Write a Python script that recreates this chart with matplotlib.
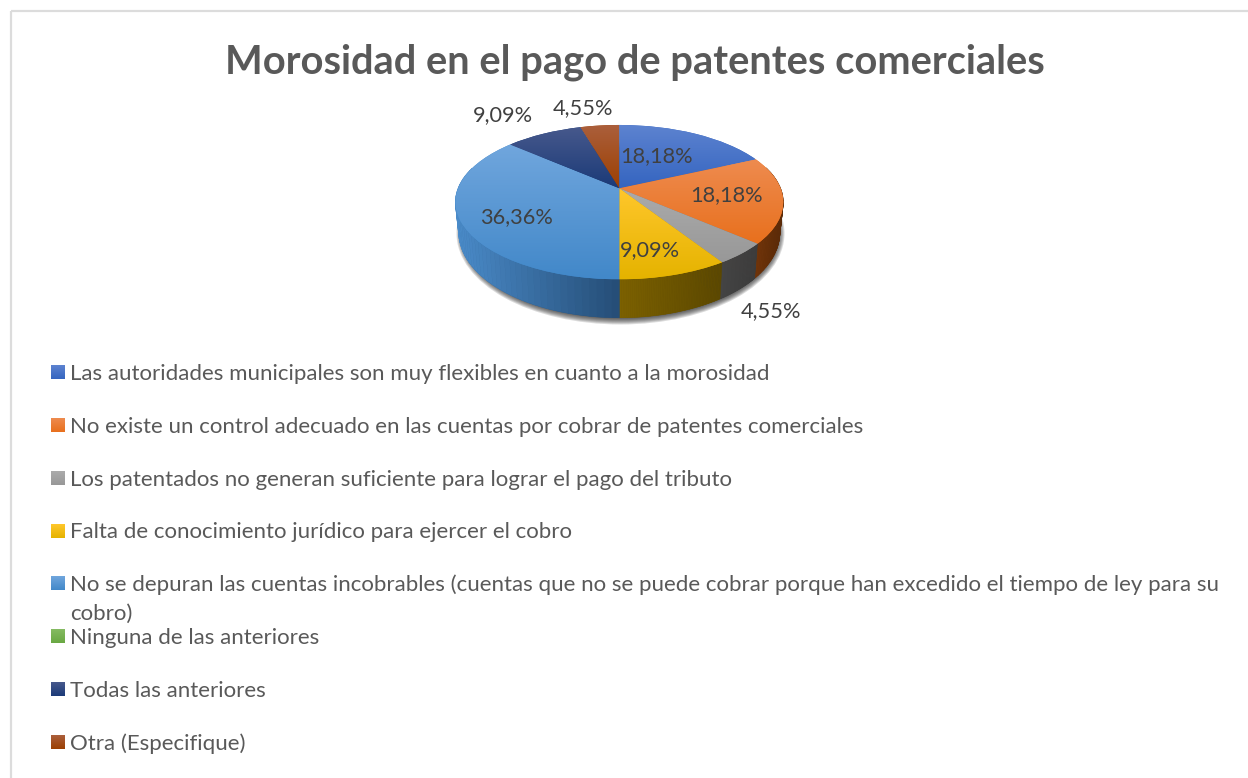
import numpy as np
import matplotlib
matplotlib.use("Agg")
import matplotlib.pyplot as plt
from matplotlib.transforms import Transform
from matplotlib.collections import PolyCollection
from matplotlib.colors import to_rgb
from matplotlib.patches import Ellipse

# ---------- data ----------
title = "Morosidad en el pago de patentes comerciales"
categories = [
    "Las autoridades municipales son muy flexibles en cuanto a la morosidad",
    "No existe un control adecuado en las cuentas por cobrar de patentes comerciales",
    "Los patentados no generan suficiente para lograr el pago del tributo",
    "Falta de conocimiento jurídico para ejercer el cobro",
    "No se depuran las cuentas incobrables (cuentas que no se puede cobrar porque han excedido el tiempo de ley para su\ncobro)",
    "Ninguna de las anteriores",
    "Todas las anteriores",
    "Otra (Especifique)",
]
values = [18.18, 18.18, 4.55, 9.09, 36.36, 0.0, 9.09, 4.55]
value_labels = ["18,18%", "18,18%", "4,55%", "9,09%", "36,36%", "", "9,09%", "4,55%"]

# ---------- styles ----------
top_light = ["#5d83d0", "#ee8b4f", "#ababab", "#ffc72c", "#70a6dd", "#85bb62", "#47598c", "#ab5f3c"]
top_dark = ["#3565c0", "#e8701d", "#989898", "#e5b300", "#4288c9", "#6aa843", "#1b3a78", "#9c4002"]
side_left = ["#1f3a70", "#70340a", "#454545", "#7c6100", "#4a8bc9", "#3f6628", "#12264e", "#5e2802"]
side_right = ["#1f3a70", "#5a2a08", "#3c3c3c", "#5c4800", "#254d76", "#3f6628", "#12264e", "#5e2802"]
label_xy = [(657, 156), (727, 195), (770.5, 311), (650, 250), (516.5, 217), None, (502.5, 115), (582.5, 108)]
legend_base = [379.5, 432.5, 485.5, 538.5, 591, 644, 697, 750]
FONT = "Lato"
TEXT = "#595959"
LABEL = "#404040"


class Perspective(Transform):
    """Projects the unit pie disc to figure pixels, seen from above."""
    input_dims = output_dims = 2
    is_separable = False
    has_inverse = False

    def __init__(self, cx, cy, rx, ky, a=0.1795):
        super().__init__()
        self.cx, self.cy, self.rx, self.ky, self.a = cx, cy, rx, ky, a

    def transform_non_affine(self, v):
        v = np.asarray(v, float)
        w = 1 + self.a * v[:, 1]
        return np.column_stack([self.cx + self.rx * v[:, 0] / w,
                                self.cy - self.ky * v[:, 1] / w])


P_top = Perspective(619.3, 188.3, 161.3, 74.7)
P_bot = Perspective(619.3, 217.2, 158.0, 82.5)

fig = plt.figure(figsize=(12.48, 7.78), dpi=100, facecolor="white")
ax = fig.add_axes([0, 0, 1, 1])


def reset_axes():
    ax.set_aspect("auto")
    ax.set_xlim(0, 1248)
    ax.set_ylim(778, 0)
    ax.axis("off")


def gradient(c0, c1, extent, z, clip=None):
    arr = np.linspace(to_rgb(c0), to_rgb(c1), 64).reshape(64, 1, 3)
    im = ax.imshow(arr, extent=extent, aspect="auto", origin="upper",
                   interpolation="bilinear", zorder=z)
    if clip is not None:
        im.set_clip_path(clip)
    return im


# soft shadow under the pie
for s in np.linspace(6, 0, 7):
    ax.add_patch(Ellipse((620.5, 233.5), 2 * (158 + s), 2 * (85 + s), fc="#262626",
                         ec="none", alpha=0.16, zorder=1))

# bottom face
wb, _ = ax.pie(values, startangle=90, counterclock=False, radius=1, colors=side_right)
for w in wb:
    w.set_transform(P_bot + ax.transData)
    w.set_clip_on(False)
    w.set_zorder(2)

# side walls, drawn as narrow strips along each slice's rim
fractions = np.cumsum([0] + values) / sum(values)
for i in range(len(values)):
    if values[i] <= 0:
        continue
    phi = 2 * np.pi * np.linspace(fractions[i], fractions[i + 1], 60)
    rim = np.column_stack([np.sin(phi), np.cos(phi)])
    tp, bt = P_top.transform(rim), P_bot.transform(rim)
    keep = rim[:, 1] < 0.3
    if keep.sum() < 2:
        continue
    tp, bt = tp[keep], bt[keep]
    xs = tp[:, 0]
    t = (xs - xs.min()) / max(xs.max() - xs.min(), 1e-6)
    c0, c1 = np.array(to_rgb(side_left[i])), np.array(to_rgb(side_right[i]))
    polys, cols = [], []
    for j in range(len(xs) - 1):
        polys.append([tp[j], tp[j + 1], bt[j + 1], bt[j]])
        cols.append(c0 + (c1 - c0) * (t[j] + t[j + 1]) / 2)
    ax.add_collection(PolyCollection(polys, facecolors=cols, edgecolors=cols,
                                     linewidths=0.4, zorder=3))

# top face
wt, _ = ax.pie(values, startangle=90, counterclock=False, radius=1, colors=top_dark)
for i, w in enumerate(wt):
    w.set_transform(P_top + ax.transData)
    w.set_clip_on(False)
    w.set_zorder(4)
    if values[i] <= 0:
        continue
    v = P_top.transform(w.get_path().vertices)
    gradient(top_light[i], top_dark[i],
             [v[:, 0].min(), v[:, 0].max(), v[:, 1].max(), v[:, 1].min()], 5, clip=w)

# frame: only the top and left edges show in the crop
ax.plot([11, 1248], [11, 11], color="#dcdcdc", lw=1.6, zorder=1, solid_capstyle="butt")
ax.plot([11, 11], [11, 778], color="#dcdcdc", lw=1.6, zorder=1, solid_capstyle="butt")

renderer = fig.canvas.get_renderer()


def fit(artist, width):
    artist.set_fontsize(artist.get_fontsize() * width / artist.get_window_extent(renderer).width)
    return artist.get_fontsize()


# title
reset_axes()
tt = ax.text(634.5, 73, title, ha="center", va="baseline", family=FONT, weight="bold",
             color=TEXT, fontsize=30, zorder=7)
fit(tt, 819)

# legend
long_probe = ax.text(0, 0, categories[0], family=FONT, fontsize=16)
legend_size = fit(long_probe, 700)
long_probe.remove()
for name, y, c0, c1 in zip(categories, legend_base, top_light, top_dark):
    lines = name.split("\n")
    for n, line in enumerate(lines):
        ax.text(70, y + 28.5 * n, line, ha="left", va="baseline", family=FONT,
                color=TEXT, fontsize=legend_size, zorder=7)
    gradient(c0, c1, [51, 65, y - 0.5, y - 14.5], 6)

# data labels
probe = ax.text(0, 0, "18,18%", family=FONT, fontsize=16)
label_size = fit(probe, 73)
probe.remove()
for lab, xy in zip(value_labels, label_xy):
    if xy is not None:
        ax.text(xy[0], xy[1], lab, ha="center", va="center", family=FONT,
                color=LABEL, fontsize=label_size, zorder=8)

reset_axes()
fig.savefig("out.png", dpi=100, facecolor="white")
